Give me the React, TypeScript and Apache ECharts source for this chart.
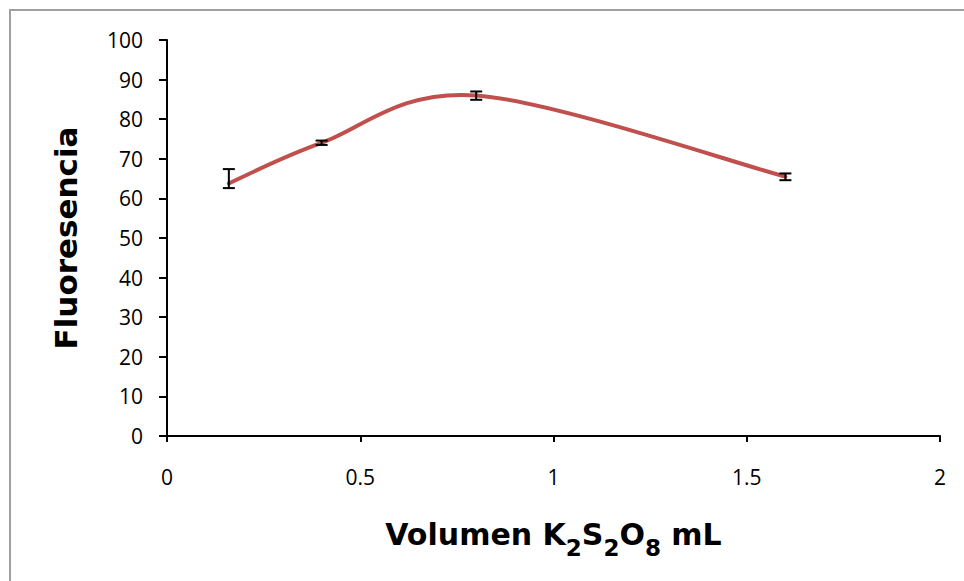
import React, { useEffect, useRef } from "react";
import * as echarts from "echarts";

const volumes = [0.16, 0.4, 0.8, 1.6];
const fluorescence = [63.8, 74, 86, 65.5];
const errLow = [62.6, 73.5, 84.9, 64.6];
const errHigh = [67.4, 74.6, 87, 66.3];
const xTicks = [0, 0.5, 1, 1.5, 2];
const yTicks = [0, 10, 20, 30, 40, 50, 60, 70, 80, 90, 100];

export default function App() {
  const ref = useRef<HTMLDivElement>(null);
  useEffect(() => {
    if (!ref.current) return;
    const chart = echarts.init(ref.current, null, { renderer: "svg" });
    const font = "DejaVu Sans, Verdana, sans-serif";
    const tickFont = "Open Sans, sans-serif";
    const n = volumes.length;
    chart.setOption({
      animation: false,
      backgroundColor: "#ffffff",
      grid: { left: 167, right: 24, top: 40, bottom: 145 },
      graphic: [
        {
          type: "rect",
          shape: { x: 10, y: 10, width: 1000, height: 1000 },
          style: { fill: "none", stroke: "#a0a0a0", lineWidth: 2 },
          silent: true,
        },
      ],
      xAxis: {
        type: "value",
        min: xTicks[0],
        max: xTicks[xTicks.length - 1],
        interval: 0.5,
        splitLine: { show: false },
        axisLine: { lineStyle: { color: "#000", width: 2 } },
        axisTick: { show: true, length: 6, lineStyle: { color: "#000", width: 2 } },
        axisLabel: { color: "#000", fontSize: 21, fontFamily: tickFont, margin: 30 },
        name: "{a|Volumen K}{s|2}{a|S}{s|2}{a|O}{s|8}{a| mL}",
        nameLocation: "middle",
        nameGap: 83,
        nameTextStyle: {
          rich: {
            a: { fontSize: 30, fontWeight: "bold", fontFamily: font, color: "#000", lineHeight: 40, verticalAlign: "top" },
            s: { fontSize: 23, fontWeight: "bold", fontFamily: font, color: "#000", lineHeight: 35, verticalAlign: "bottom" },
          },
        },
      },
      yAxis: {
        type: "value",
        min: yTicks[0],
        max: yTicks[yTicks.length - 1],
        interval: 10,
        splitLine: { show: false },
        axisLine: { show: true, lineStyle: { color: "#000", width: 2 } },
        axisTick: { show: true, length: 8, lineStyle: { color: "#000", width: 2 } },
        axisLabel: { color: "#000", fontSize: 21, fontFamily: tickFont, margin: 24 },
        name: "Fluoresencia",
        nameLocation: "middle",
        nameGap: 86,
        nameTextStyle: { fontSize: 31, fontWeight: "bold", fontFamily: font, color: "#000" },
      },
      series: [
        {
          type: "custom",
          data: volumes.map((v, i) => [v, fluorescence[i]]),
          z: 2,
          renderItem: (params: any, api: any) => {
            const i = params.dataIndex;
            if (i >= n - 1) return null;
            const P = (k: number) => {
              const j = Math.max(0, Math.min(n - 1, k));
              return api.coord([volumes[j], fluorescence[j]]);
            };
            const p0 = P(i - 1), p1 = P(i), p2 = P(i + 1), p3 = P(i + 2);
            return {
              type: "bezierCurve",
              shape: {
                x1: p1[0],
                y1: p1[1],
                cpx1: p1[0] + (p2[0] - p0[0]) / 6,
                cpy1: p1[1] + (p2[1] - p0[1]) / 6,
                cpx2: p2[0] - (p3[0] - p1[0]) / 6,
                cpy2: p2[1] - (p3[1] - p1[1]) / 6,
                x2: p2[0],
                y2: p2[1],
              },
              style: { stroke: "#C0504D", lineWidth: 4, fill: "none", lineCap: "round" },
            };
          },
        },
        {
          type: "custom",
          data: volumes.map((v, i) => [v, errLow[i], errHigh[i]]),
          z: 3,
          renderItem: (params: any, api: any) => {
            const x = api.value(0);
            const lo = api.coord([x, api.value(1)]);
            const hi = api.coord([x, api.value(2)]);
            const hw = 6;
            const style = { stroke: "#000", lineWidth: 2 };
            return {
              type: "group",
              children: [
                { type: "line", shape: { x1: lo[0], y1: lo[1], x2: hi[0], y2: hi[1] }, style },
                { type: "line", shape: { x1: lo[0] - hw, y1: lo[1], x2: lo[0] + hw, y2: lo[1] }, style },
                { type: "line", shape: { x1: hi[0] - hw, y1: hi[1], x2: hi[0] + hw, y2: hi[1] }, style },
              ],
            };
          },
        },
      ],
    });
    return () => chart.dispose();
  }, []);
  return (
    <div
      ref={ref}
      style={{ position: "absolute", left: 0, top: 0, width: 964, height: 581 }}
    />
  );
}
